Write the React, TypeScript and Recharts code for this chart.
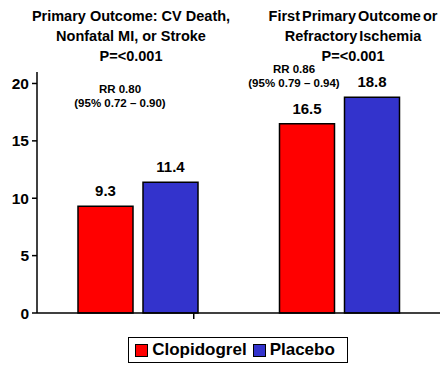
import { BarChart, Bar, XAxis, YAxis, Legend, LabelList } from 'recharts'

const categories = ['Primary Outcome', 'First Primary Outcome or Refractory Ischemia']
const clopidogrel = [9.3, 16.5]
const placebo = [11.4, 18.8]
const yTicks = [0, 5, 10, 15, 20]

const titles = [
  ['Primary Outcome: CV Death,', 'Nonfatal MI, or Stroke', 'P=<0.001'],
  ['First Primary Outcome or', 'Refractory Ischemia', 'P=<0.001'],
]
const rrNotes = [
  ['RR 0.80', '(95% 0.72 – 0.90)'],
  ['RR 0.86', '(95% 0.79 – 0.94)'],
]

const FONT = 'Arial, "Liberation Sans", sans-serif'
const W = 444
const H = 372
const MARGIN = { top: 72, right: 4, bottom: 49, left: 0 }
const Y_W = 37
const PLOT_W = W - MARGIN.left - MARGIN.right - Y_W
const CAT_W = PLOT_W / categories.length

const data = categories.map((name, i) => ({
  name,
  clopidogrel: clopidogrel[i],
  placebo: placebo[i],
}))

// ticks sit at category boundaries, not centres
function BoundaryTick(props: any) {
  const { x, y, index } = props
  const left = x - CAT_W / 2
  return (
    <g>
      <line x1={left} y1={y - 8} x2={left} y2={y - 2} stroke="#000" strokeWidth={1.5} />
      {index === categories.length - 1 && (
        <line x1={left + CAT_W} y1={y - 8} x2={left + CAT_W} y2={y - 2} stroke="#000" strokeWidth={1.5} />
      )}
    </g>
  )
}

function LegendBox() {
  const item = (color: string, label: string) => (
    <span style={{ display: 'inline-flex', alignItems: 'center', marginRight: 6 }}>
      <span style={{ width: 11, height: 11, background: color, border: '1.5px solid #000', marginRight: 4 }} />
      {label}
    </span>
  )
  return (
    <div style={{
      position: 'absolute', left: 128, top: 337, width: 218, height: 24,
      border: '1.5px solid #000', background: '#fff', display: 'flex', alignItems: 'center',
      justifyContent: 'center', fontFamily: FONT, fontWeight: 'bold', fontSize: 17, color: '#000',
    }}>
      {item('#ff0000', 'Clopidogrel')}
      {item('#3333cc', 'Placebo')}
    </div>
  )
}

export default function App() {
  const titleX = [131, 353]
  const rrPos = [{ x: 120, y: 83 }, { x: 294, y: 63 }]
  return (
    <div style={{ position: 'absolute', left: 0, top: 0, width: W, height: H, background: '#fff', overflow: 'hidden' }}>
      {titles.map((lines, i) => (
        <div key={i} style={{
          position: 'absolute', left: titleX[i] - 120, top: 6, width: 240, textAlign: 'center',
          fontFamily: FONT, fontWeight: 'bold', fontSize: 14.5, lineHeight: '20px', color: '#000',
          wordSpacing: i === 1 ? -2 : 0,
        }}>
          {lines.map((l) => <div key={l}>{l}</div>)}
        </div>
      ))}
      {rrNotes.map((lines, i) => (
        <div key={i} style={{
          position: 'absolute', left: rrPos[i].x - 70, top: rrPos[i].y, width: 140, textAlign: 'center',
          fontFamily: FONT, fontWeight: 'bold', fontSize: 11.5, lineHeight: '13.5px', color: '#000',
        }}>
          {lines.map((l) => <div key={l}>{l}</div>)}
        </div>
      ))}
      <BarChart width={W} height={H} data={data} margin={MARGIN} barSize={55} barGap={10}
        style={{ position: 'absolute', left: 0, top: 0 }}>
        <YAxis
          width={Y_W}
          domain={[0, 21]}
          ticks={yTicks}
          tickSize={5}
          tickMargin={3}
          axisLine={{ stroke: '#000', strokeWidth: 1.5 }}
          tickLine={{ stroke: '#000', strokeWidth: 1.5 }}
          tick={{ fill: '#000', fontSize: 15.5, fontWeight: 'bold', fontFamily: FONT }}
        />
        <XAxis
          dataKey="name"
          height={10}
          axisLine={{ stroke: '#000', strokeWidth: 1.5 }}
          tickLine={false}
          tick={<BoundaryTick />}
        />
        <Bar dataKey="clopidogrel" fill="#ff0000" stroke="#000" strokeWidth={1.5} isAnimationActive={false}>
          <LabelList dataKey="clopidogrel" position="top" offset={10}
            style={{ fill: '#000', fontSize: 15, fontWeight: 'bold', fontFamily: FONT }} />
        </Bar>
        <Bar dataKey="placebo" fill="#3333cc" stroke="#000" strokeWidth={1.5} isAnimationActive={false}>
          <LabelList dataKey="placebo" position="top" offset={10}
            style={{ fill: '#000', fontSize: 15, fontWeight: 'bold', fontFamily: FONT }} />
        </Bar>
        <Legend content={() => null} />
      </BarChart>
      <LegendBox />
    </div>
  )
}
